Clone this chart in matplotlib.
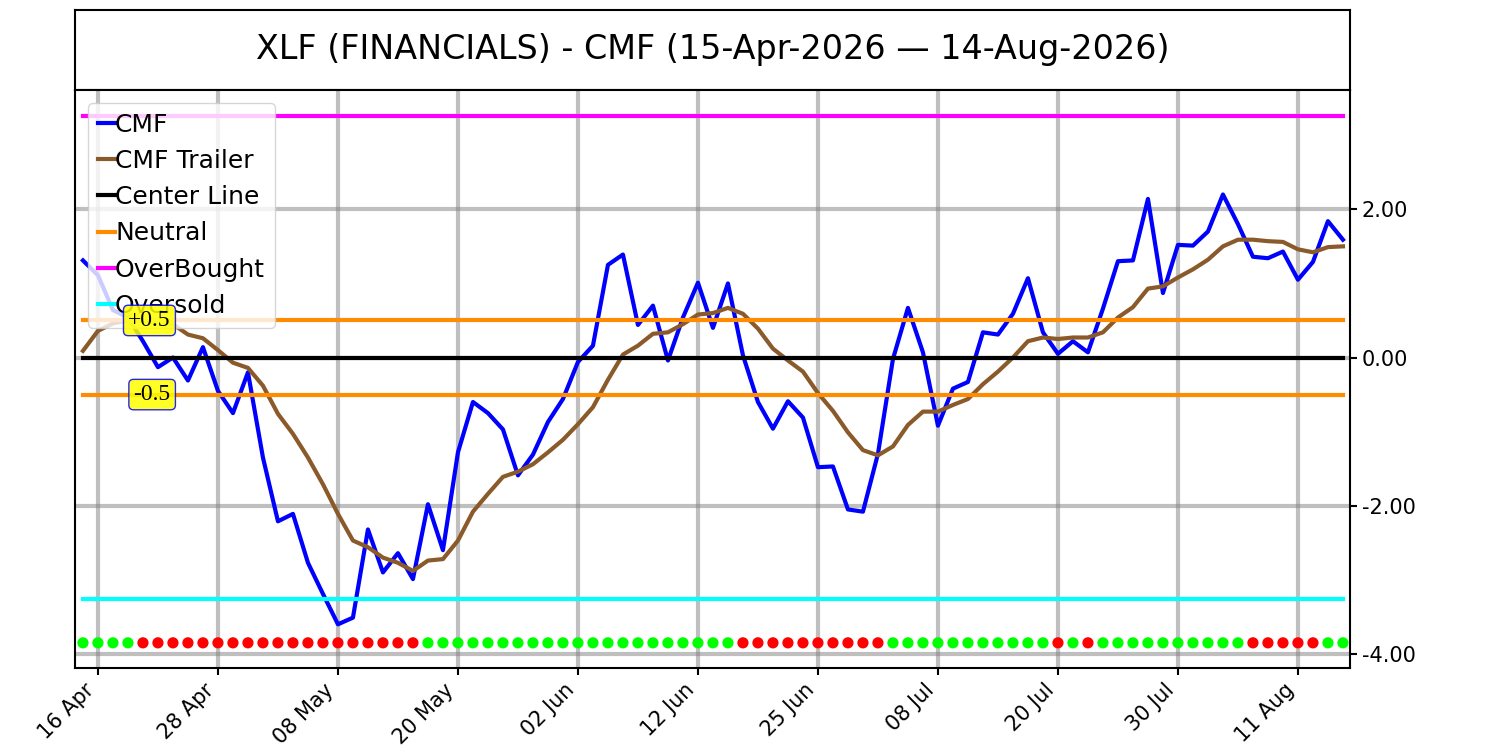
import numpy as np
import pandas as pd
import matplotlib
matplotlib.use('Agg')
import matplotlib.pyplot as plt

# Dias de mercado (15-Abr-2026 a 14-Ago-2026), sin festivos de NYSE
festivos = ['2026-05-25', '2026-06-19', '2026-07-03']
fechas = pd.bdate_range('2026-04-15', '2026-08-14')
fechas = fechas[~fechas.isin(pd.to_datetime(festivos))]

cmf = [1.31, 1.11, 0.64, 0.54, 0.22, -0.13, 0.00, -0.31, 0.14, -0.45,
       -0.75, -0.20, -1.35, -2.21, -2.11, -2.77, -3.19, -3.60, -3.51, -2.32,
       -2.90, -2.64, -2.99, -1.98, -2.60, -1.28, -0.60, -0.75, -0.97, -1.59,
       -1.31, -0.87, -0.56, -0.06, 0.16, 1.25, 1.39, 0.44, 0.70, -0.04,
       0.54, 1.01, 0.40, 1.00, 0.03, -0.60, -0.96, -0.59, -0.81, -1.48,
       -1.47, -2.05, -2.08, -1.30, -0.02, 0.67, 0.07, -0.92, -0.42, -0.33,
       0.34, 0.31, 0.59, 1.07, 0.34, 0.05, 0.22, 0.07, 0.66, 1.30,
       1.31, 2.14, 0.87, 1.52, 1.51, 1.70, 2.20, 1.80, 1.36, 1.34,
       1.43, 1.05, 1.29, 1.84, 1.59]

trailer = [0.09, 0.36, 0.46, 0.50, 0.49, 0.48, 0.45, 0.31, 0.26, 0.10,
           -0.07, -0.14, -0.38, -0.76, -1.03, -1.35, -1.71, -2.11, -2.47, -2.56,
           -2.70, -2.77, -2.88, -2.74, -2.72, -2.47, -2.08, -1.84, -1.61, -1.54,
           -1.44, -1.28, -1.11, -0.90, -0.67, -0.30, 0.04, 0.16, 0.32, 0.34,
           0.45, 0.58, 0.60, 0.67, 0.59, 0.39, 0.12, -0.04, -0.19, -0.48,
           -0.72, -1.01, -1.25, -1.32, -1.20, -0.91, -0.73, -0.73, -0.64, -0.56,
           -0.36, -0.19, 0.00, 0.22, 0.27, 0.25, 0.27, 0.27, 0.34, 0.54,
           0.68, 0.93, 0.96, 1.08, 1.19, 1.32, 1.50, 1.59, 1.59, 1.57,
           1.56, 1.46, 1.42, 1.49, 1.50]

# senal por dia: g = verde, r = rojo
senal = ('gggg' + 'r' * 19 + 'g' * 21 + 'r' * 10 + 'g' * 11 + 'rgr'
         + 'g' * 10 + 'r' * 5 + 'gg')

centro = 0.0
neutral = 0.5
sobrecompra = 3.26
sobreventa = -3.26
nivel_puntos = -3.85

x = np.arange(len(fechas))
colores_senal = ['#00ff00' if s == 'g' else '#ff0000' for s in senal]

fig = plt.figure(figsize=(15, 7.5), dpi=100)

# Caja del titulo
ax_t = fig.add_axes([0.05, 0.88, 0.85, 0.1067])
ax_t.set_xticks([])
ax_t.set_yticks([])
for s in ax_t.spines.values():
    s.set_linewidth(1.5)
ax_t.text(0.5, 0.5, 'XLF (FINANCIALS) - CMF (15-Apr-2026 \u2014 14-Aug-2026)',
          ha='center', va='center', fontsize=24, transform=ax_t.transAxes)

ax = fig.add_axes([0.05, 0.1093, 0.85, 0.7707])
ax.set_axisbelow(True)
ax.grid(True, color='gray', alpha=0.5, linewidth=3)

ax.plot(x, cmf, color='blue', linewidth=3, label='CMF')
ax.plot(x, trailer, color='#8b5a2b', linewidth=3, label='CMF Trailer')
ax.plot(x, [centro] * len(x), color='black', linewidth=3, label='Center Line')
ax.plot(x, [neutral] * len(x), color='darkorange', linewidth=3, label='Neutral')
ax.plot(x, [-neutral] * len(x), color='darkorange', linewidth=3)
ax.plot(x, [sobrecompra] * len(x), color='magenta', linewidth=3, label='OverBought')
ax.plot(x, [sobreventa] * len(x), color='cyan', linewidth=3, label='Oversold')

ax.scatter(x, [nivel_puntos] * len(x), c=colores_senal, s=50, zorder=3)

caja = dict(boxstyle='round,pad=0.2', facecolor='yellow', edgecolor='blue', alpha=0.85)
ax.text(5.85, neutral, '+0.5', ha='right', va='center', fontsize=17,
        family='Liberation Serif', bbox=caja, zorder=6)
ax.text(5.85, -neutral, '-0.5', ha='right', va='center', fontsize=17,
        family='Liberation Serif', bbox=caja, zorder=6)

ax.set_xlim(-0.53, 84.47)
ax.set_ylim(-4.19, 3.61)

pos_ticks = x[1::8]
ax.set_xticks(pos_ticks)
ax.set_xticklabels([fechas[i].strftime('%d %b') for i in pos_ticks],
                   rotation=45, ha='right', fontsize=15)
ax.set_yticks([-4, -2, 0, 2])
ax.set_yticklabels(['%.2f' % v for v in [-4, -2, 0, 2]], fontsize=15)
ax.yaxis.tick_right()
ax.tick_params(length=5, width=1.5)
for s in ax.spines.values():
    s.set_linewidth(1.5)

ax.legend(loc='upper left', fontsize=18, handlelength=0.7, handletextpad=0.0,
          labelspacing=0.49, framealpha=0.8)

fig.savefig('out.png', dpi=100)
